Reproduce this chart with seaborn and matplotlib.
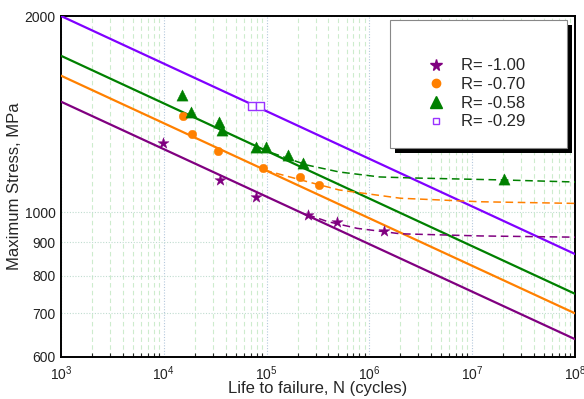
import seaborn as sns
import matplotlib.pyplot as plt
import matplotlib.ticker as mticker
from matplotlib.patches import Rectangle
import pandas as pd
import numpy as np

sns.set_style("white")
plt.rcParams["font.family"] = ["Liberation Sans", "DejaVu Sans"]

# test data
labels = ["R= -1.00", "R= -0.70", "R= -0.58", "R= -0.29"]
colors = ["#800080", "#ff8000", "#008000", "#8000ff"]

n_m100 = [9.75e3, 3.5e4, 7.9e4, 2.5e5, 4.8e5, 1.4e6]
s_m100 = [1276, 1121, 1055, 992, 965, 937]
n_m070 = [1.55e4, 1.9e4, 3.4e4, 9.2e4, 2.13e5, 3.24e5]
s_m070 = [1407, 1319, 1243, 1168, 1134, 1103]
n_m058 = [1.51e4, 1.83e4, 3.44e4, 3.68e4, 7.9e4, 9.9e4, 1.6e5, 2.27e5, 2.05e7]
s_m058 = [1514, 1424, 1377, 1338, 1258, 1258, 1225, 1189, 1124]
n_m029 = [7.2e4, 8.7e4]
s_m029 = [1458, 1458]

# basquin fit lines, value at N=1e3 and N=1e8
fit_n = [1e3, 1e8]
fit_m100 = [1478, 639]
fit_m070 = [1620, 700]
fit_m058 = [1738, 750]
fit_m029 = [2000, 863]

# dashed curves
dash_n_m100 = [2.5e5, 3.9e5, 7.6e5, 2.0e6, 1.2e7, 1e8]
dash_s_m100 = [992, 968, 945, 927, 920, 916]
dash_n_m070 = [9.5e4, 2.45e5, 5.1e5, 2.0e6, 1.2e7, 1e8]
dash_s_m070 = [1161, 1115, 1082, 1051, 1038, 1032]
dash_n_m058 = [1.12e5, 2.45e5, 5.1e5, 1.26e6, 2.6e6, 2.0e7, 1e8]
dash_s_m058 = [1234, 1182, 1153, 1133, 1129, 1121, 1113]

points = pd.concat([
    pd.DataFrame({"N": n_m100, "S": s_m100, "R": labels[0]}),
    pd.DataFrame({"N": n_m070, "S": s_m070, "R": labels[1]}),
    pd.DataFrame({"N": n_m058, "S": s_m058, "R": labels[2]}),
    pd.DataFrame({"N": n_m029, "S": s_m029, "R": labels[3]}),
])
fits = pd.concat([
    pd.DataFrame({"N": fit_n, "S": fit_m100, "R": labels[0]}),
    pd.DataFrame({"N": fit_n, "S": fit_m070, "R": labels[1]}),
    pd.DataFrame({"N": fit_n, "S": fit_m058, "R": labels[2]}),
    pd.DataFrame({"N": fit_n, "S": fit_m029, "R": labels[3]}),
])
dashes = pd.concat([
    pd.DataFrame({"N": dash_n_m100, "S": dash_s_m100, "R": labels[0]}),
    pd.DataFrame({"N": dash_n_m070, "S": dash_s_m070, "R": labels[1]}),
    pd.DataFrame({"N": dash_n_m058, "S": dash_s_m058, "R": labels[2]}),
])

palette = dict(zip(labels, colors))

fig = plt.figure(figsize=(5.84, 3.99), dpi=100)
ax = fig.add_axes([61 / 584, 1 - 357 / 399, 514 / 584, 341 / 399])
ax.set_xscale("log")
ax.set_yscale("log")

# grid
ax.grid(True, which="minor", axis="x", color="#cdeccd", linestyle=(0, (4, 3)), linewidth=0.8)
ax.grid(True, which="major", axis="x", color="#b4c8dc", linestyle=(0, (1, 1.5)), linewidth=0.8)
ax.grid(True, which="major", axis="y", color="#c0dcd0", linestyle=(0, (1, 1.5)), linewidth=0.8)

sns.lineplot(data=fits, x="N", y="S", hue="R", palette=palette, linewidth=1.6,
             legend=False, ax=ax, zorder=3)
for lab in labels[:3]:
    d = dashes[dashes["R"] == lab]
    ax.plot(d["N"], d["S"], color=palette[lab], linestyle=(0, (5, 3)), linewidth=1.1, zorder=3)

markers = {labels[0]: "*", labels[1]: "o", labels[2]: "^", labels[3]: "s"}
sizes = {labels[0]: 70, labels[1]: 38, labels[2]: 65, labels[3]: 32}
handles = []
for lab in labels:
    d = points[points["R"] == lab]
    if lab == labels[3]:
        sns.scatterplot(x=d["N"], y=d["S"], marker="s", s=sizes[lab], facecolor="white",
                        edgecolor="#9933ff", linewidth=1.0, ax=ax, zorder=4)
        h = plt.Line2D([], [], marker="s", linestyle="", markersize=5,
                       markerfacecolor="white", markeredgecolor="#9933ff", markeredgewidth=1.0)
    else:
        sns.scatterplot(x=d["N"], y=d["S"], marker=markers[lab], s=sizes[lab],
                        color=palette[lab], edgecolor=palette[lab], linewidth=0.3, ax=ax, zorder=4)
        ms = {"*": 8.5, "o": 6, "^": 8}[markers[lab]]
        h = plt.Line2D([], [], marker=markers[lab], linestyle="", markersize=ms,
                       color=palette[lab])
    handles.append(h)

ax.set_xlim(1e3, 1e8)
ax.set_ylim(600, 2000)

ax.xaxis.set_major_locator(mticker.LogLocator(base=10, numticks=10))
ax.xaxis.set_minor_locator(mticker.LogLocator(base=10, subs=np.arange(2, 10), numticks=20))
ax.xaxis.set_major_formatter(mticker.LogFormatterSciNotation())
ax.xaxis.set_minor_formatter(mticker.NullFormatter())

ax.yaxis.set_major_locator(mticker.FixedLocator([600, 700, 800, 900, 1000, 2000]))
ax.yaxis.set_major_formatter(mticker.FixedFormatter(["600", "700", "800", "900", "1000", "2000"]))
ax.yaxis.set_minor_locator(mticker.NullLocator())

ax.tick_params(axis="x", which="major", direction="in", length=5, width=1, labelsize=10, pad=5)
ax.tick_params(axis="x", which="minor", direction="in", length=3, width=0.8, bottom=True)
ax.tick_params(axis="y", which="major", direction="in", length=0, labelsize=10, pad=4)
ax.tick_params(axis="both", colors="black", labelcolor="#222222")

for sp in ax.spines.values():
    sp.set_color("black")
    sp.set_linewidth(1.4)

ax.set_xlabel("Life to failure, N (cycles)", fontsize=12, labelpad=-1)
ax.set_ylabel("Maximum Stress, MPa", fontsize=12, labelpad=2)

# legend box with solid shadow
ax.add_patch(Rectangle((0.650, 0.598), 0.344, 0.375, transform=ax.transAxes,
                       facecolor="black", edgecolor="none", zorder=6, clip_on=False))
ax.add_patch(Rectangle((0.640, 0.613), 0.344, 0.375, transform=ax.transAxes,
                       facecolor="white", edgecolor="#888888", linewidth=0.8, zorder=7, clip_on=False))
leg = ax.legend(handles, labels, loc="upper left", bbox_to_anchor=(0.70, 0.895),
                frameon=False, fontsize=12, handlelength=1.0, handletextpad=1.0,
                labelspacing=0.22, borderaxespad=0)
leg.set_zorder(8)

fig.savefig("out.png", dpi=100)
